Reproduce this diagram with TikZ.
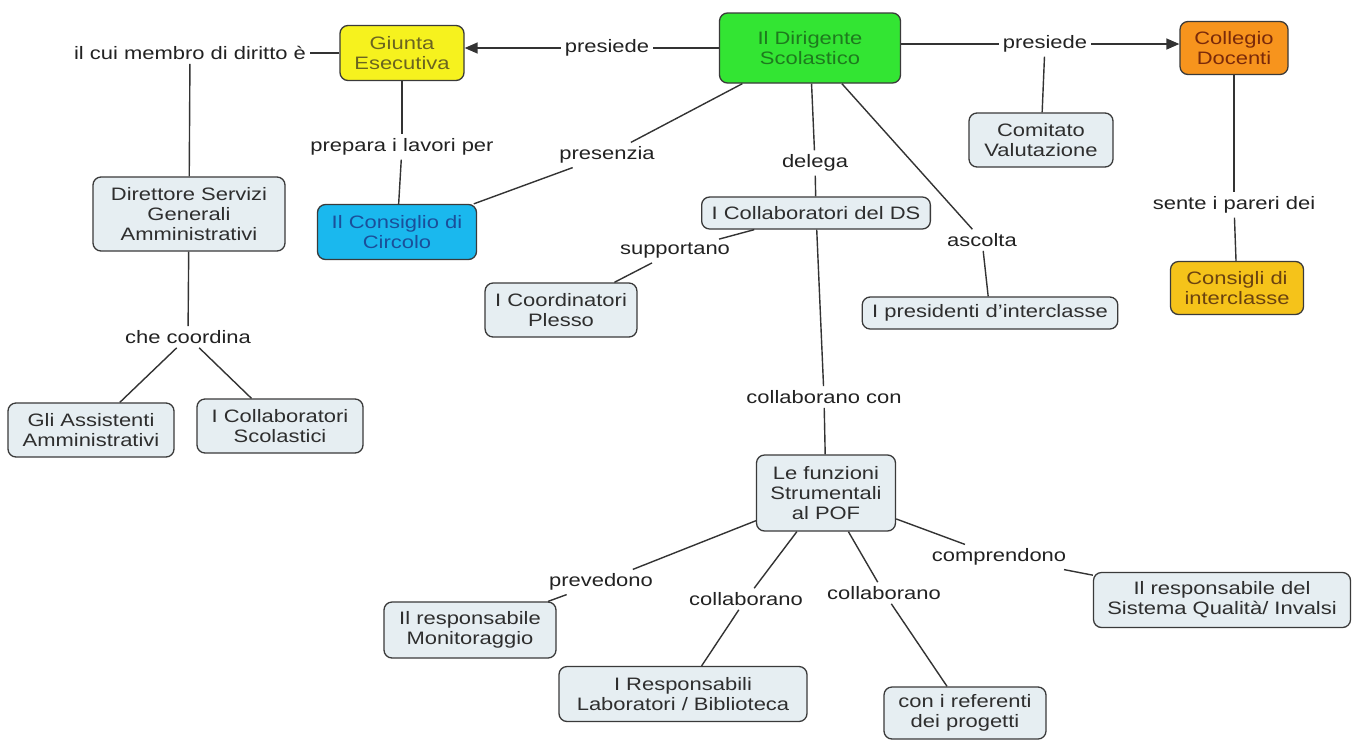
\documentclass[tikz,border=0pt]{standalone}
\usepackage{fontspec}
\setmainfont{Liberation Sans}[FakeStretch=1.22]
\usetikzlibrary{arrows.meta,calc}
\definecolor{boxfill}{HTML}{E6EEF2}
\definecolor{boxline}{HTML}{3A3A3A}
\definecolor{boxtext}{HTML}{2E2E2E}
\definecolor{lbltext}{HTML}{222222}
\definecolor{lineclr}{HTML}{333333}
\definecolor{yelfill}{HTML}{F6F21E}
\definecolor{yeltext}{HTML}{6A6420}
\definecolor{grnfill}{HTML}{33E533}
\definecolor{grntext}{HTML}{1E7A1E}
\definecolor{orgfill}{HTML}{F7941D}
\definecolor{orgtext}{HTML}{7A2A0A}
\definecolor{cynfill}{HTML}{1AB8EE}
\definecolor{cyntext}{HTML}{1A4F9A}
\definecolor{gldfill}{HTML}{F5C31A}
\definecolor{gldtext}{HTML}{6A4210}
\begin{document}
\begin{tikzpicture}[x=1pt,y=-1pt,
  box/.style={draw=boxline, line width=1.3pt, rounded corners=8pt, fill=boxfill,
    text=boxtext, align=center, inner xsep=10pt, inner ysep=6pt,
    font=\fontsize{18}{20}\selectfont},
  lbl/.style={text=lbltext, inner sep=4pt, font=\fontsize{18}{20}\selectfont},
  conn/.style={draw=lineclr, line width=1.4pt},
  arr/.style={conn, -{Triangle[length=13pt,width=11pt]}}]
\fill[white] (0,0) rectangle (1352,740);
\useasboundingbox (0,0) rectangle (1352,740);
% main nodes
\node[box, fill=yelfill, text=yeltext, minimum width=124pt, minimum height=55pt] (giunta) at (402,53) {Giunta\\Esecutiva};
\node[box, fill=grnfill, text=grntext, minimum width=181pt, minimum height=70pt] (dir) at (810,48) {Il Dirigente\\Scolastico};
\node[box, fill=orgfill, text=orgtext, minimum width=108pt, minimum height=53pt] (coll) at (1234,48) {Collegio\\Docenti};
\node[box, fill=cynfill, text=cyntext, minimum width=159pt, minimum height=55pt] (cons) at (397,232) {Il Consiglio di\\Circolo};
\node[box, minimum width=144pt, minimum height=54pt] (comit) at (1041,140) {Comitato\\Valutazione};
\node[box, fill=gldfill, text=gldtext, minimum width=133pt, minimum height=53pt] (interc) at (1237,288) {Consigli di\\interclasse};
\node[box, minimum height=32pt] (collds) at (816,213) {I Collaboratori del DS};
\node[box, minimum height=54pt] (coord) at (561,310) {I Coordinatori\\Plesso};
\node[box, minimum height=32pt] (pres) at (990,313) {I presidenti d\char"0027interclasse};
\node[box, minimum width=192pt, minimum height=74pt] (dsga) at (189,214) {Direttore Servizi\\Generali\\Amministrativi};
\node[box, minimum width=166pt, minimum height=54pt] (assist) at (91,430) {Gli Assistenti\\Amministrativi};
\node[box, minimum width=166pt, minimum height=54pt] (collsc) at (280,426) {I Collaboratori\\Scolastici};
\node[box, minimum width=139pt, minimum height=76pt] (funz) at (826,493) {Le funzioni\\Strumentali\\al POF};
\node[box, minimum width=172pt, minimum height=56pt] (monit) at (470,630) {Il responsabile\\Monitoraggio};
\node[box, minimum width=248pt, minimum height=55pt] (labor) at (683,694) {I Responsabili\\Laboratori / Biblioteca};
\node[box, minimum width=162pt, minimum height=52pt] (refer) at (965,713) {con i referenti\\dei progetti};
\node[box, minimum width=257pt, minimum height=55pt] (qual) at (1222,600) {Il responsabile del\\Sistema Qualità/ Invalsi};
% linking phrases
\node[lbl] (membro) at (190,53) {il cui membro di diritto è};
\node[lbl] (presL) at (607,48) {presiede};
\node[lbl] (presR) at (1045,44) {presiede};
\node[lbl] (prepara) at (402,147) {prepara i lavori per};
\node[lbl] (presenzia) at (607,155) {presenzia};
\node[lbl] (delega) at (815,163) {delega};
\node[lbl] (ascolta) at (982,240) {ascolta};
\node[lbl] (sente) at (1234,205) {sente i pareri dei};
\node[lbl] (supportano) at (675,251) {supportano};
\node[lbl] (collabcon) at (824,397) {collaborano con};
\node[lbl] (checoord) at (188,337) {che coordina};
\node[lbl] (prevedono) at (601,582) {prevedono};
\node[lbl] (collabL) at (746,599) {collaborano};
\node[lbl] (collabR) at (884,593) {collaborano};
\node[lbl] (comprendono) at (999,557) {comprendono};
% connectors
\draw[conn] (membro) -- (giunta);
\draw[conn] (membro) -- (dsga);
\draw[conn] (dir) -- (presL);
\draw[arr] (presL) -- (presL -| giunta.east);
\draw[conn] (presR -| dir.east) -- (presR);
\draw[arr] (presR) -- (presR -| coll.west);
\draw[conn] (presR) -- (comit);
\draw[conn] (giunta) -- (prepara);
\draw[conn] (prepara) -- (cons);
\draw[conn] (dir) -- (presenzia);
\draw[conn] (presenzia) -- (cons);
\draw[conn] (dir) -- (delega);
\draw[conn] (delega) -- (collds);
\draw[conn] (dir) -- (ascolta);
\draw[conn] (ascolta) -- (pres);
\draw[conn] (coll) -- (sente);
\draw[conn] (sente) -- (interc);
\draw[conn] (collds) -- (supportano);
\draw[conn] (supportano) -- (coord);
\draw[conn] (collds) -- (collabcon);
\draw[conn] (collabcon) -- (funz);
\draw[conn] (dsga) -- (checoord);
\draw[conn] (checoord) -- (assist);
\draw[conn] (checoord) -- (collsc);
\draw[conn] (funz) -- (prevedono);
\draw[conn] (prevedono) -- (monit);
\draw[conn] (funz) -- (collabL);
\draw[conn] (collabL) -- (labor);
\draw[conn] (funz) -- (collabR);
\draw[conn] (collabR) -- (refer);
\draw[conn] (funz) -- (comprendono);
\draw[conn] (comprendono) -- (qual);
\end{tikzpicture}
\end{document}
